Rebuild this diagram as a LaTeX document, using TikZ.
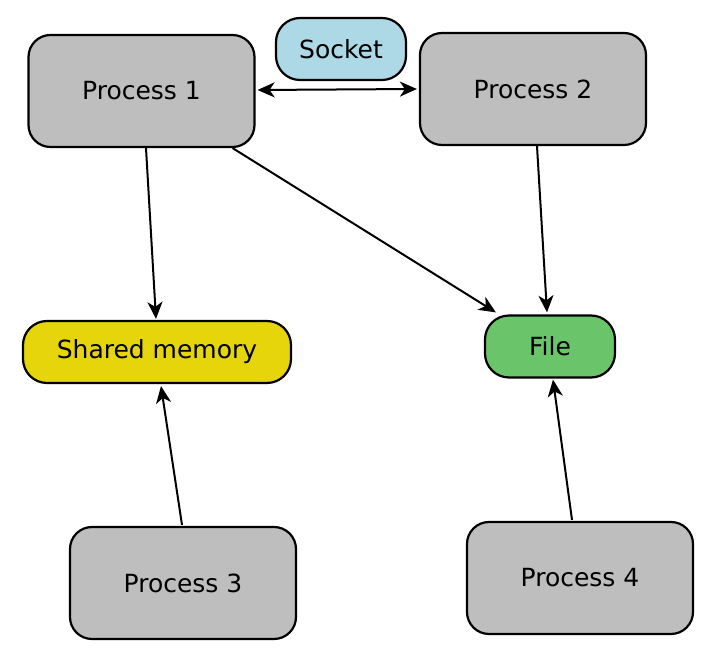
\documentclass[tikz,border=0pt]{standalone}
\usepackage{fontspec}
\setmainfont{DejaVu Sans}
\usetikzlibrary{arrows.meta,calc}
\definecolor{procgray}{RGB}{190,190,190}
\definecolor{sockblue}{RGB}{173,216,230}
\definecolor{shmyellow}{RGB}{229,213,10}
\definecolor{filegreen}{RGB}{106,197,106}
\tikzset{
  box/.style={draw=black, line width=1.1pt, rounded corners=11pt, align=center,
    font=\fontsize{12.5}{15}\selectfont, inner sep=0pt},
  procbox/.style={box, fill=procgray, minimum width=113pt, minimum height=56pt},
  smallbox/.style={box, minimum height=31pt, rounded corners=12pt},
  tip/.tip={Stealth[length=8.5pt,width=7.5pt,inset=2.5pt]},
  conn/.style={line width=1pt, -tip},
  biconn/.style={line width=1pt, tip-tip}
}
\begin{document}
\begin{tikzpicture}[x=0.5pt,y=-0.5pt]
\useasboundingbox (0,0) rectangle (719,657);
\node[procbox] (p1) at (141.5,91) {Process 1};
\node[procbox] (p2) at (533,89) {Process 2};
\node[procbox] (p3) at (183,583) {Process 3};
\node[procbox] (p4) at (580,578) {Process 4};
\node[smallbox, fill=sockblue, minimum width=65pt] (sock) at (341,49) {Socket};
\node[smallbox, fill=shmyellow, minimum width=134pt] (shm) at (157,352) {Shared memory};
\node[smallbox, fill=filegreen, minimum width=65pt] (file) at (550,346.5) {File};
\draw[biconn] ($(p1.east)+(2,-1)$) -- ($(p2.west)+(-2,0)$);
\draw[conn] ($(p1.south)+(4.5,0)$) -- ($(shm.north)+(-1,-1)$);
\draw[conn] ($(p1.south east)+(-23,0)$) -- ($(file.north west)+(12,-2)$);
\draw[conn] ($(p2.south)+(4,0)$) -- ($(file.north)+(-3,-2)$);
\draw[conn] ($(p3.north)+(-1,-1)$) -- ($(shm.south)+(4,2)$);
\draw[conn] ($(p4.north)+(-8,-1)$) -- ($(file.south)+(3,1)$);
\end{tikzpicture}
\end{document}
